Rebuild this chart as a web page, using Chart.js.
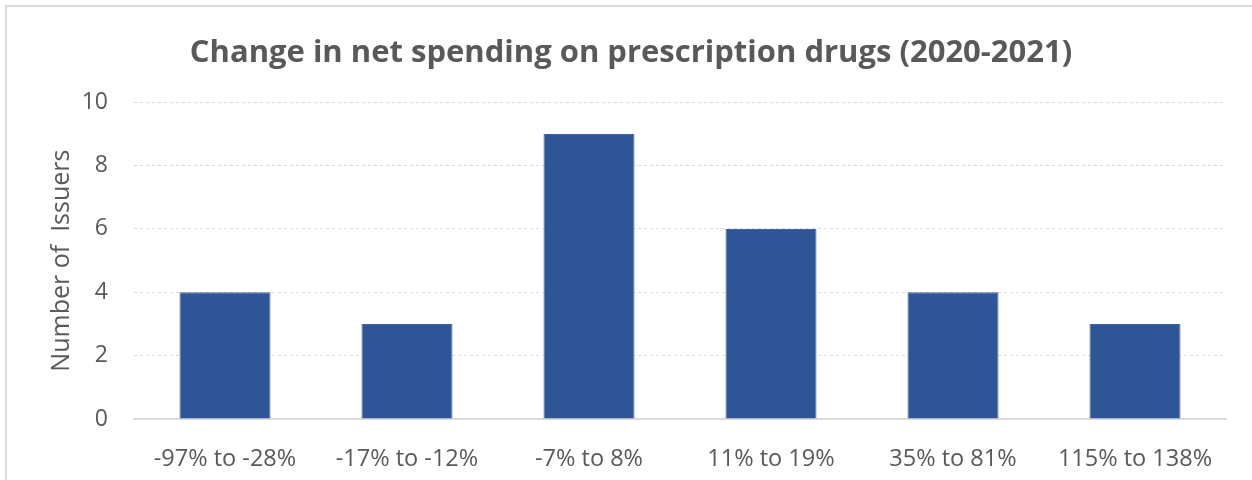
<!DOCTYPE html>
<html>
<head>
<meta charset="utf-8">
<script src="https://cdn.jsdelivr.net/npm/chart.js@4"></script>
<style>
  html, body { margin:0; padding:0; width:1252px; height:480px; overflow:hidden; background:#fff; }
  #frame { position:absolute; left:5px; top:5px; width:1300px; height:520px; border:2px solid #d9d9d9; box-sizing:border-box; }
  #wrap { position:absolute; left:0; top:0; width:1252px; height:480px; }
</style>
</head>
<body>
<div id="frame"></div>
<div id="wrap"><canvas id="c" width="1252" height="480"></canvas></div>
<script>
const categories = ["-97% to -28%", "-17% to -12%", "-7% to 8%", "11% to 19%", "35% to 81%", "115% to 138%"];
const issuers = [4, 3, 9, 6, 4, 3];
const yTicks = [0, 2, 4, 6, 8, 10];

const FONT = "'Open Sans', 'Noto Sans', sans-serif";
const GRAY = '#595959';

new Chart(document.getElementById('c'), {
  type: 'bar',
  data: {
    labels: categories,
    datasets: [{
      data: issuers,
      backgroundColor: '#2F5597',
      borderColor: '#3F64A4',
      borderWidth: 1,
      categoryPercentage: 1.0,
      barPercentage: 0.5
    }]
  },
  options: {
    responsive: false,
    animation: false,
    devicePixelRatio: 1,
    layout: { padding: { left: 36, right: 26, top: 0, bottom: 0 } },
    plugins: {
      legend: { display: false },
      tooltip: { enabled: false },
      title: {
        display: true,
        text: 'Change in net spending on prescription drugs (2020-2021)',
        color: GRAY,
        font: { family: FONT, size: 31, weight: 'bold' },
        padding: { top: 35, bottom: 30 }
      }
    },
    scales: {
      x: {
        grid: { display: false },
        border: { display: true, color: '#d9d9d9', width: 2 },
        ticks: { color: GRAY, font: { family: FONT, size: 23.5 }, padding: 18, maxRotation: 0 },
        afterFit: s => { s.height = 61; }
      },
      y: {
        min: 0, max: 10,
        afterBuildTicks: s => { s.ticks = yTicks.map(v => ({ value: v })); },
        grid: { color: '#d9d9d9', drawTicks: false, lineWidth: 1 },
        border: { display: false, dash: [3, 3] },
        ticks: { color: GRAY, font: { family: FONT, size: 23 }, padding: 26 },
        title: { display: true, text: 'Number of  Issuers', color: GRAY, font: { family: FONT, size: 25 }, padding: { top: 11, bottom: 0 } },
        afterFit: s => { s.width = 98; }
      }
    }
  }
});
</script>
</body>
</html>
